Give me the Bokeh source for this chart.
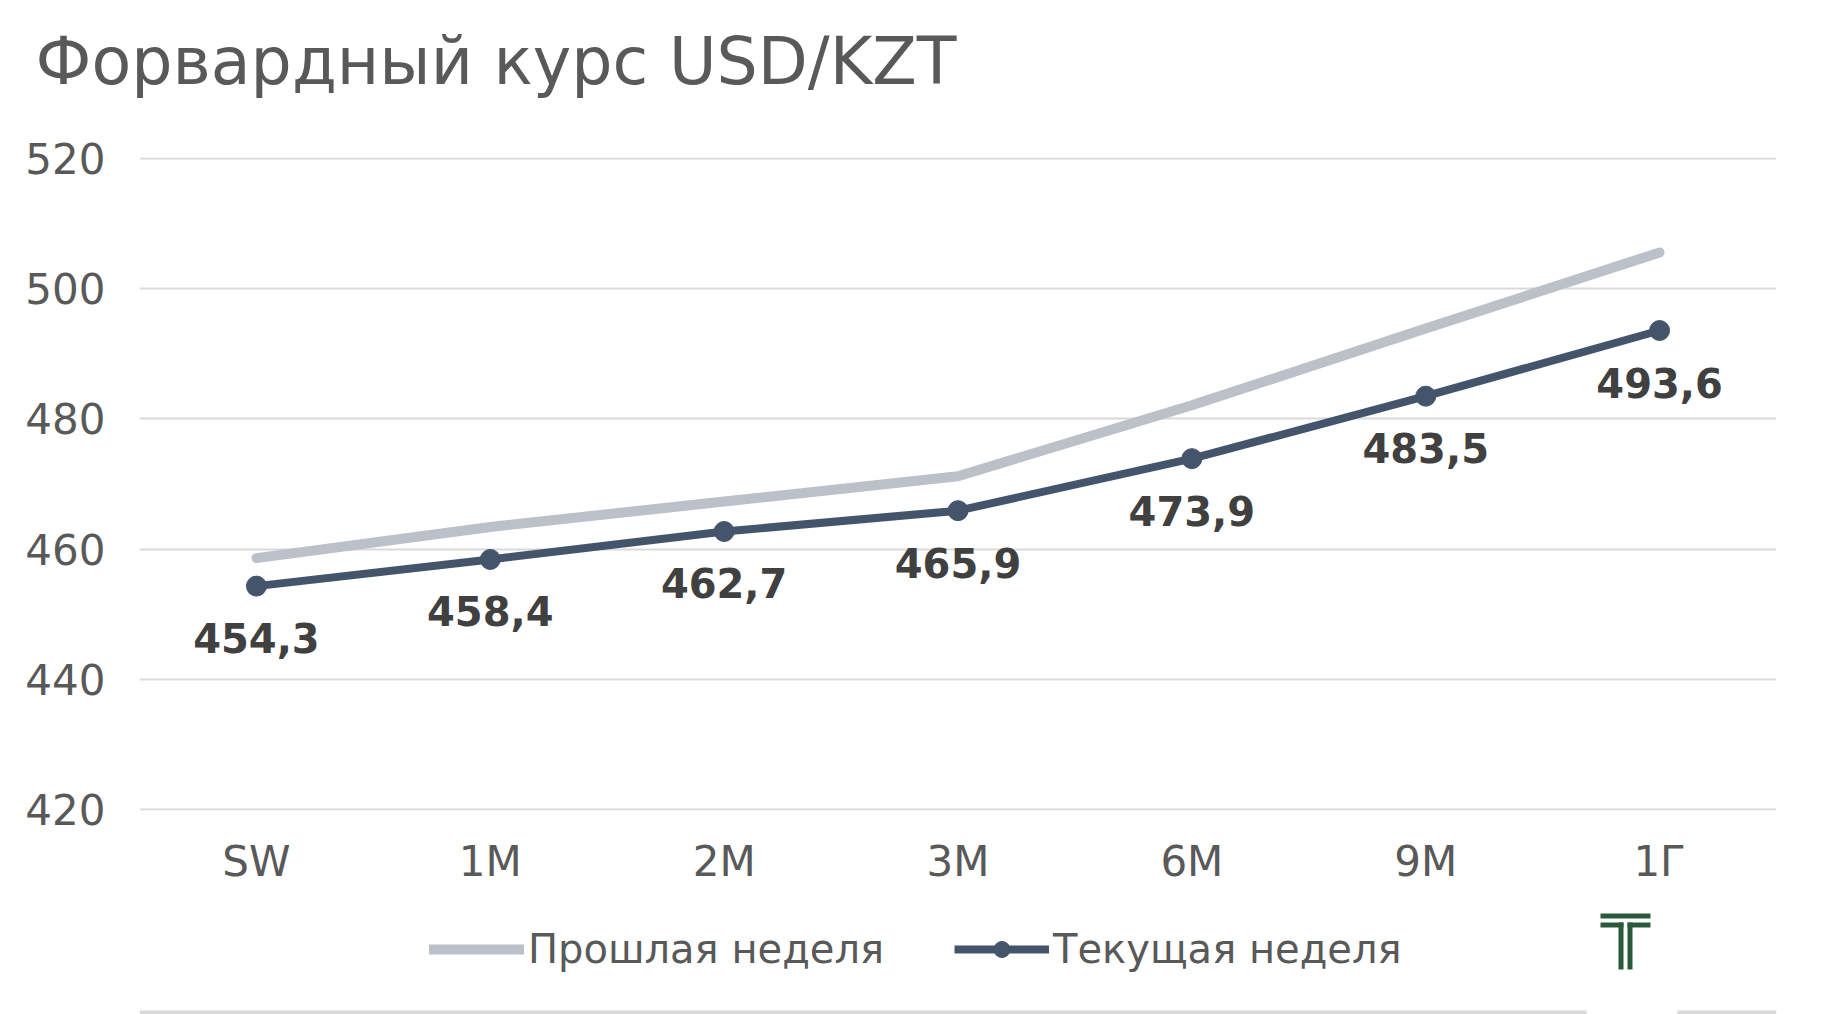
from bokeh.plotting import figure
from bokeh.layouts import column
from bokeh.models import (ColumnDataSource, LabelSet, Legend, LegendItem,
                          BoxAnnotation, FixedTicker, Range1d, Title)
from bokeh.core.properties import value
from bokeh.embed import file_html
from bokeh.resources import INLINE

# ---- data ----
categories = ["SW", "1M", "2M", "3M", "6M", "9M", "1Г"]
prev_week = [458.6, 463.4, 467.3, 471.2, 482.1, 493.9, 505.6]
curr_week = [454.3, 458.4, 462.7, 465.9, 473.9, 483.5, 493.6]
y_ticks = [420, 440, 460, 480, 500, 520]
title_text = "Форвардный курс USD/KZT"
prev_name = "Прошлая неделя"
curr_name = "Текущая неделя"

curr_labels = [f"{v:.1f}".replace(".", ",") for v in curr_week]

FONT = "DejaVu Sans"
GREY = "#BCC0C8"
DARK = "#44546A"
TXT = "#595959"
GREEN = "#2A5A3A"

src = ColumnDataSource(dict(cat=categories, prev=prev_week, curr=curr_week,
                            lab=curr_labels))

p = figure(frame_width=1637, frame_height=653,
           x_range=categories, y_range=(419.8, 520.2),
           output_backend="svg", toolbar_location=None,
           min_border_left=139, min_border_right=46,
           min_border_top=157, min_border_bottom=90)
p.outline_line_color = None
p.background_fill_color = "white"
p.border_fill_color = "white"
p.title.text = ""

# spacer (closest to the frame), then the real title above it
p.add_layout(Title(text=" ", text_font_size="1px", standoff=54), "above")
p.add_layout(Title(text=title_text, text_font=FONT, text_font_size="65px",
                   text_font_style="normal", text_color=TXT, align="left",
                   vertical_align="top", offset=-104, standoff=0), "above")

p.xgrid.grid_line_color = None
p.ygrid.grid_line_color = "#D9D9D9"
p.ygrid.grid_line_width = 2

p.yaxis.ticker = FixedTicker(ticks=y_ticks)
for ax in (p.xaxis[0], p.yaxis[0]):
    ax.axis_line_color = None
    ax.major_tick_line_color = None
    ax.minor_tick_line_color = None
    ax.major_label_text_font = FONT
    ax.major_label_text_font_size = "42px"
    ax.major_label_text_color = TXT
p.yaxis.major_label_standoff = 28
p.xaxis.major_label_standoff = 20

line_kw_prev = dict(line_color=GREY, line_width=10, line_cap="round",
                    line_join="round")
line_kw_curr = dict(line_color=DARK, line_width=8, line_join="round")
pt_kw = dict(size=20, fill_color=DARK, line_color=DARK)

p.line("cat", "prev", source=src, **line_kw_prev)
p.line("cat", "curr", source=src, **line_kw_curr)
p.scatter("cat", "curr", source=src, **pt_kw)

labels = LabelSet(x="cat", y="curr", text="lab", source=src, y_offset=-52,
                  text_align="center", text_baseline="middle",
                  text_font=value(FONT),
                  text_font_size="40px", text_font_style="bold",
                  text_color="#404040")
p.add_layout(labels)

# ---- legend strip (legend, logo, bottom rule) ----
# same series, drawn out of this strip's view so only their legend glyphs show
p2 = figure(width=1822, height=114, x_range=categories, y_range=Range1d(0, 1),
            x_axis_type=None, y_axis_type=None,
            output_backend="svg", toolbar_location=None, min_border=0)
p2.outline_line_color = None
p2.grid.visible = False
p2.border_fill_color = "white"
p2.background_fill_color = "white"

l_prev = p2.line("cat", "prev", source=src, **line_kw_prev)
l_curr = p2.line("cat", "curr", source=src, **line_kw_curr)
l_pts = p2.scatter("cat", "curr", source=src, **pt_kw)

legend = Legend(items=[LegendItem(label=prev_name, renderers=[l_prev]),
                       LegendItem(label=curr_name, renderers=[l_curr, l_pts])],
                orientation="horizontal", location=(290, 42),
                glyph_width=95, glyph_height=40, label_standoff=4, spacing=70,
                label_text_font=FONT, label_text_font_size="40px",
                label_text_color=TXT, border_line_color=None,
                background_fill_alpha=0, padding=0, margin=0)
p2.add_layout(legend)


def sbox(color, left=None, right=None, bottom=None, top=None):
    kw = dict(fill_color=color, fill_alpha=1, line_color=None)
    for name, v in (("left", left), ("right", right),
                    ("bottom", bottom), ("top", top)):
        if v is not None:
            kw[name] = v
            kw[name + "_units"] = "screen"
    p2.add_layout(BoxAnnotation(**kw))


# logo (decoration): double "T"
sbox(GREEN, 1461, 1511, 96, 101)
sbox(GREEN, 1461, 1484, 87, 92)
sbox(GREEN, 1488, 1511, 87, 92)
sbox(GREEN, 1479, 1484, 45, 92)
sbox(GREEN, 1488, 1493, 45, 92)

# bottom rule (decoration)
sbox("#D9D9D9", right=1447, bottom=0, top=4)
sbox("#D9D9D9", left=1538, bottom=0, top=4)

layout = column(p, p2, spacing=0)
open("out.html", "w").write(file_html(layout, INLINE))
